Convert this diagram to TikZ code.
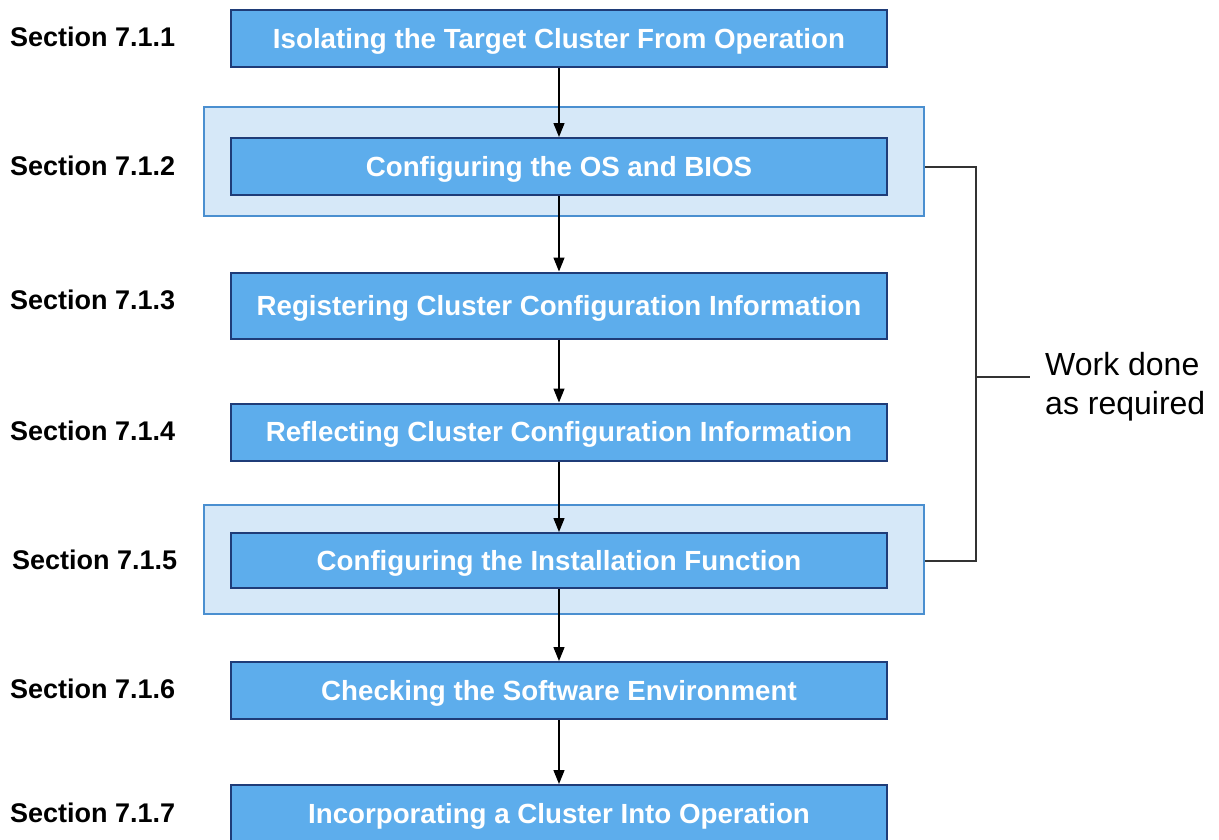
\documentclass[tikz,border=0pt]{standalone}
\usepackage{fontspec}
\setmainfont{Liberation Sans}
\usetikzlibrary{arrows.meta}
\definecolor{stepfill}{HTML}{5DADEC}
\definecolor{stepedge}{HTML}{1F3C78}
\definecolor{bandfill}{HTML}{D6E8F8}
\definecolor{bandedge}{HTML}{4A8FD0}
\definecolor{bracketgray}{HTML}{333333}
\tikzset{
  stepbox/.style={draw=stepedge, line width=2pt, fill=stepfill,
    minimum width=656pt, minimum height=57pt, inner sep=0pt,
    text height=19.8pt, text depth=0pt,
    text=white, font=\bfseries\fontsize{27.7}{32}\selectfont},
  band/.style={draw=bandedge, line width=1.5pt, fill=bandfill,
    minimum width=720pt, minimum height=109pt, inner sep=0pt},
  seclabel/.style={anchor=west, inner sep=0pt, text=black,
    text height=19.2pt, text depth=0pt,
    font=\bfseries\fontsize{27}{32}\selectfont},
  flow/.style={line width=1.4pt, -{Triangle[length=14pt,width=11pt]}},
  bracket/.style={draw=bracketgray, line width=2pt}
}
\begin{document}
\begin{tikzpicture}[x=1pt, y=-1pt]
  \useasboundingbox (0,0) rectangle (1219,839);

  % highlighted groups
  \node[band] (hl1) at (564,161.5) {};
  \node[band] (hl2) at (564,559.5) {};

  % steps
  \node[stepbox] (b1) at (559,38.5) {Isolating the Target Cluster From Operation};
  \node[stepbox] (b2) at (559,166.5) {Configuring the OS and BIOS};
  \node[stepbox, minimum height=66pt] (b3) at (559,305.5) {Registering Cluster Configuration Information};
  \node[stepbox] (b4) at (559,432) {Reflecting Cluster Configuration Information};
  \node[stepbox, minimum height=55pt] (b5) at (559,560.5) {Configuring the Installation Function};
  \node[stepbox] (b6) at (559,690.5) {Checking the Software Environment};
  \node[stepbox] (b7) at (559,813.5) {Incorporating a Cluster Into Operation};

  % section references
  \node[seclabel] (s1) at (10,37) {Section 7.1.1};
  \node[seclabel] (s2) at (10,166) {Section 7.1.2};
  \node[seclabel] (s3) at (10,300) {Section 7.1.3};
  \node[seclabel] (s4) at (10,431) {Section 7.1.4};
  \node[seclabel] (s5) at (12,560) {Section 7.1.5};
  \node[seclabel] (s6) at (10,689) {Section 7.1.6};
  \node[seclabel] (s7) at (10,813) {Section 7.1.7};

  % flow arrows
  \draw[flow] (b1.south) -- (b2.north);
  \draw[flow] (b2.south) -- (b3.north);
  \draw[flow] (b3.south) -- (b4.north);
  \draw[flow] (b4.south) -- (b5.north);
  \draw[flow] (b5.south) -- (b6.north);
  \draw[flow] (b6.south) -- (b7.north);

  % optional-work bracket
  \node[anchor=west, align=left, inner sep=0pt,
        font=\fontsize{32}{39}\selectfont] (note) at (1045,387)
        {Work done\\as required};
  \coordinate (bk) at (976,377);
  \coordinate (tick) at (1030,377);
  \draw[bracket] (b2.east -| hl1.east) -| (bk) |- (b5.east -| hl2.east);
  \draw[bracket] (bk) -- (tick);
\end{tikzpicture}
\end{document}
